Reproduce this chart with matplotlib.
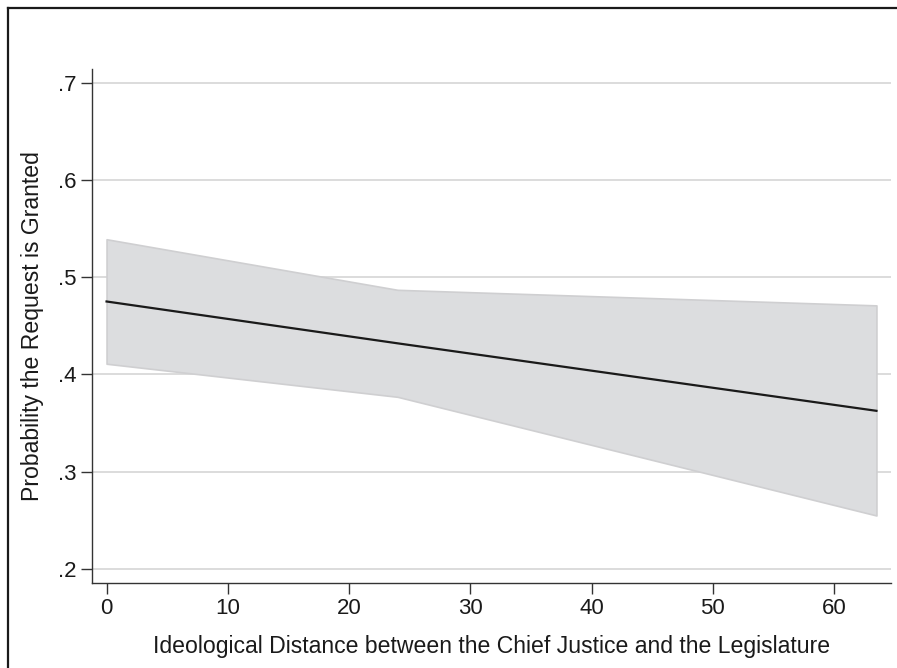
import matplotlib
matplotlib.use("Agg")
import matplotlib.pyplot as plt
from matplotlib.lines import Line2D

plt.rcParams['font.family'] = ['Liberation Sans', 'DejaVu Sans']

# Data
x_vals = [0, 24, 63.5]
pred = [0.475, 0.432, 0.3626]
ci_upper = [0.539, 0.487, 0.471]
ci_lower = [0.411, 0.377, 0.255]

x_ticks = [0, 10, 20, 30, 40, 50, 60]
y_ticks = [0.2, 0.3, 0.4, 0.5, 0.6, 0.7]
y_ticklabels = ['.2', '.3', '.4', '.5', '.6', '.7']

W, H = 897, 668
fig = plt.figure(figsize=(W / 100, H / 100), dpi=100)
ax = fig.add_axes([92 / W, 1 - 583 / H, (891 - 92) / W, (583 - 69) / H])

ax.fill_between(x_vals, ci_lower, ci_upper, facecolor='#dcdddf', edgecolor='#cfcfd1', linewidth=1.2, zorder=2)
ax.plot(x_vals, pred, color='#1a1a1a', linewidth=1.6, zorder=3)

ax.set_xlim(-1.2, 64.7)
ax.set_ylim(0.1856, 0.714)
ax.set_xticks(x_ticks)
ax.set_xticklabels([str(t) for t in x_ticks])
ax.set_yticks(y_ticks)
ax.set_yticklabels(y_ticklabels)

ax.yaxis.grid(True, color='#d9d9d9', linewidth=1.3, zorder=0)
ax.set_axisbelow(True)
for s in ['top', 'right']:
    ax.spines[s].set_visible(False)
for s in ['left', 'bottom']:
    ax.spines[s].set_color('#333333')
    ax.spines[s].set_linewidth(1.0)

ax.tick_params(axis='both', length=8, width=1.0, color='#333333', labelsize=16, labelcolor='#1a1a1a', pad=3)
ax.set_xlabel('Ideological Distance between the Chief Justice and the Legislature', fontsize=16.6, color='#1a1a1a', labelpad=11)
ax.set_ylabel('Probability the Request is Granted', fontsize=16.6, color='#1a1a1a', labelpad=10)

# outer frame (top and left edges)
fig.add_artist(Line2D([8 / W, 1], [1 - 8 / H, 1 - 8 / H], transform=fig.transFigure, color='#1a1a1a', linewidth=1.6))
fig.add_artist(Line2D([8 / W, 8 / W], [0, 1 - 8 / H], transform=fig.transFigure, color='#1a1a1a', linewidth=1.6))

fig.savefig('out.png', dpi=100, facecolor='white')
